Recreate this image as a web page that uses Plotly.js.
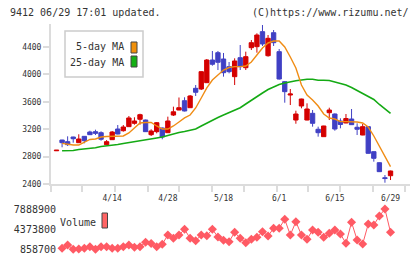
<!DOCTYPE html>
<html><head><meta charset="utf-8">
<script src="https://cdn.plot.ly/plotly-3.0.1.min.js"></script>
<style>html,body{margin:0;padding:0;background:#fff;}#chart{width:420px;height:259px;}</style>
</head><body><div id="chart"></div>
<script>
// ---- data ----
const dates = ['3/31','4/1','4/2','4/3','4/6','4/7','4/8','4/9','4/10','4/13','4/14','4/15','4/16','4/17','4/20','4/21','4/22','4/23','4/24','4/27','4/28','4/30','5/1','5/7','5/8','5/11','5/12','5/13','5/14','5/15','5/18','5/19','5/20','5/21','5/22','5/25','5/26','5/27','5/28','5/29','6/1','6/2','6/3','6/4','6/5','6/8','6/9','6/10','6/11','6/12','6/15','6/16','6/17','6/18','6/19','6/22','6/23','6/24','6/25','6/26','6/29'];
const openP  = [2885,3042,3018,3086,3003,3096,3159,3164,3149,2974,3047,3203,3178,3237,3286,3345,3334,3120,3164,3218,3149,3407,3480,3616,3514,3797,3787,3879,4210,4317,4225,4113,3967,4244,4098,4390,4405,4624,4273,4609,4332,3894,3699,3334,3539,3334,3432,3199,3091,3441,3422,3320,3291,3349,3228,3115,3237,2872,2711,2492,2521];
const highP  = [2893,3045,3096,3090,3126,3100,3178,3193,3169,3042,3174,3261,3261,3393,3374,3426,3340,3199,3305,3225,3383,3529,3663,3666,3699,3845,4045,4225,4342,4342,4313,4181,4235,4429,4332,4502,4600,4721,4575,4648,4371,3900,3787,3470,3645,3578,3480,3237,3250,3514,3430,3359,3422,3495,3286,3276,3245,2875,2715,2531,2595];
const lowP   = [2885,2936,2955,3003,3000,2994,3115,3115,3032,2970,3045,3125,3164,3235,3266,3266,3160,3101,3140,3053,3145,3393,3478,3460,3510,3685,3772,3875,4127,4064,3967,4016,3845,4064,4064,4356,4317,4415,4259,4415,3925,3587,3553,3280,3505,3330,3237,3091,3088,3334,3178,3213,3288,3262,3115,3112,2845,2726,2575,2419,2458];
const closeP = [2893,3003,2974,3061,3057,3032,3120,3140,3053,3018,3159,3130,3232,3364,3320,3412,3164,3174,3295,3086,3320,3454,3514,3466,3685,3739,4040,4210,4148,4177,4025,4040,4196,4113,4259,4463,4575,4444,4527,4463,3933,3748,3714,3422,3641,3495,3286,3149,3247,3480,3203,3269,3356,3266,3199,3237,2848,2775,2580,2480,2590];
const ma5  = [null,2994,2977,2969,2969,3013,3050,3057,3086,3094,3094,3094,3101,3145,3218,3291,3298,3298,3247,3203,3203,3247,3305,3364,3407,3510,3656,3802,3918,3991,4064,4101,4113,4113,4123,4181,4283,4386,4459,4488,4488,4400,4254,4094,3845,3699,3626,3539,3422,3364,3349,3310,3310,3310,3305,3291,3232,3101,2955,2809,2653];
const ma25 = [null,2886,2886,2889,2904,2911,2918,2930,2948,2955,2962,2977,2991,3003,3021,3028,3042,3057,3072,3086,3108,3137,3152,3167,3181,3203,3247,3291,3334,3371,3407,3444,3480,3514,3568,3626,3675,3729,3780,3816,3853,3875,3894,3908,3918,3929,3929,3914,3914,3911,3889,3870,3845,3809,3765,3721,3689,3634,3561,3502,3432];
const volume = [null,1033000,1609000,858700,900000,1033000,1312000,880000,1312000,1312000,1033000,1033000,1312000,1609000,1208000,1312000,2080000,1870000,1312000,1731000,3353000,2778000,3353000,4348000,2778000,2359000,3353000,3214000,4348000,3004000,2429000,2185000,3824000,2778000,2010000,2603000,2952000,3929000,3179000,4522000,4522000,6092000,3353000,5673000,3353000,2603000,4226000,3824000,2952000,3650000,4226000,3528000,1905000,5569000,2481000,1783000,5272000,5098000,6668000,7888900,3824000];
const priceTicks = [2400,2800,3200,3600,4000,4400];
const volumeTicks = [858700,4373800,7888900];
const dateLabels = ['4/14','4/28','5/18','6/1','6/15','6/29'];

// ---- layout helpers ----
const W = 420, H = 259;
const fx = p => p / W, fy = p => 1 - p / H;
const idx = dates.map((d, i) => i);
const labelIdx = dateLabels.map(d => dates.indexOf(d));
const tickMarks = [-0.99,4.58,10.51,16.44,22.0,27.93,33.68,39.61,45.18,50.93,56.86,62.61];
const FONT = 'DejaVu Sans Mono, monospace';
const RED = '#d40000', BLUE = '#4040c4', ORANGE = '#f08c14', GREEN = '#14aa14', VOL = '#ff5a64';

const traces = [
  {type:'scatter', mode:'lines', x: idx, y: ma25, line:{color:GREEN, width:1.6}, xaxis:'x', yaxis:'y', hoverinfo:'skip'},
  {type:'scatter', mode:'lines', x: idx, y: ma5, line:{color:ORANGE, width:1.4}, xaxis:'x', yaxis:'y', hoverinfo:'skip'},
  {type:'candlestick', x: idx, open: openP, high: highP, low: lowP, close: closeP, xaxis:'x', yaxis:'y',
   increasing:{line:{color:RED, width:1}, fillcolor:RED},
   decreasing:{line:{color:BLUE, width:1}, fillcolor:BLUE},
   whiskerwidth:0, hoverinfo:'skip'},
  {type:'scatter', mode:'lines+markers', x: idx, y: volume, xaxis:'x2', yaxis:'y2',
   line:{color:VOL, width:1}, marker:{symbol:'diamond', size:7, color:VOL}, hoverinfo:'skip'}
];

const axisGray = '#dcdcdc';
const layout = {
  width: W, height: H, margin:{l:0, r:0, t:0, b:0},
  paper_bgcolor:'#fff', plot_bgcolor:'#fff', showlegend:false,
  boxgap:0.22, boxgroupgap:0,
  font:{family:FONT, size:8, color:'#333'},
  xaxis:{domain:[fx(51), fx(410)], range:[-0.99, 63.5], anchor:'y', showgrid:false, zeroline:false,
         showline:true, linecolor:axisGray, linewidth:2, ticks:'outside', ticklen:6, tickwidth:2, tickcolor:axisGray,
         tickmode:'array', tickvals:tickMarks, showticklabels:false, rangeslider:{visible:false}, fixedrange:true},
  yaxis:{domain:[fy(184), fy(24)], range:[2400, 4736], anchor:'x', showgrid:false, zeroline:false,
         showline:true, linecolor:axisGray, linewidth:2, ticks:'outside', ticklen:6, tickwidth:2, tickcolor:axisGray,
         tickmode:'array', tickvals:priceTicks, ticktext:priceTicks.map(String), tickfont:{family:FONT, size:8, color:'#333'}, fixedrange:true},
  xaxis2:{domain:[fx(51), fx(410)], range:[-0.99, 63.5], anchor:'y2', side:'top', showgrid:false, zeroline:false,
          showline:false, ticks:'', tickmode:'array', tickvals:labelIdx, ticktext:dateLabels,
          tickfont:{family:FONT, size:8, color:'#333'}, fixedrange:true},
  yaxis2:{domain:[fy(255), fy(204)], range:[-135700, 8761150], anchor:'free', position:fx(56), showgrid:false, zeroline:false,
          showline:false, ticks:'', tickmode:'array', tickvals:volumeTicks, ticktext:volumeTicks.map(String),
          tickfont:{family:FONT, size:10, color:'#333'}, fixedrange:true},
  shapes:[
    {type:'rect', xref:'paper', yref:'paper', x0:fx(65), x1:fx(143), y0:fy(77), y1:fy(31), line:{color:'#cccccc', width:1.5}, fillcolor:'#ffffff', layer:'below'},
    {type:'rect', xref:'paper', yref:'paper', x0:fx(131), x1:fx(137), y0:fy(53), y1:fy(42), line:{color:'#444', width:1}, fillcolor:'#f0900a'},
    {type:'rect', xref:'paper', yref:'paper', x0:fx(131), x1:fx(137), y0:fy(67), y1:fy(56), line:{color:'#444', width:1}, fillcolor:'#14b014'},
    {type:'rect', xref:'paper', yref:'paper', x0:fx(102), x1:fx(107.5), y0:fy(228), y1:fy(213), line:{color:'#444', width:1}, fillcolor:'#ff6464'}
  ],
  annotations:[
    {xref:'paper', yref:'paper', x:fx(8), y:fy(12.5), xanchor:'left', yanchor:'middle', showarrow:false, text:'9412 06/29 17:01 updated.', font:{family:FONT, size:10, color:'#333'}},
    {xref:'paper', yref:'paper', x:fx(411), y:fy(12.5), xanchor:'right', yanchor:'middle', showarrow:false, text:'(C)https://www.rizumu.net/', font:{family:FONT, size:10, color:'#333'}},
    {xref:'paper', yref:'paper', x:fx(126), y:fy(46.5), xanchor:'right', yanchor:'middle', showarrow:false, text:'5-day MA', font:{family:FONT, size:10, color:'#333'}},
    {xref:'paper', yref:'paper', x:fx(126), y:fy(63), xanchor:'right', yanchor:'middle', showarrow:false, text:'25-day MA', font:{family:FONT, size:10, color:'#333'}},
    {xref:'paper', yref:'paper', x:fx(58), y:fy(222), xanchor:'left', yanchor:'middle', showarrow:false, text:'Volume', font:{family:FONT, size:10, color:'#333'}}
  ]
};

Plotly.newPlot('chart', traces, layout, {staticPlot:true, displayModeBar:false});
</script>
</body></html>
